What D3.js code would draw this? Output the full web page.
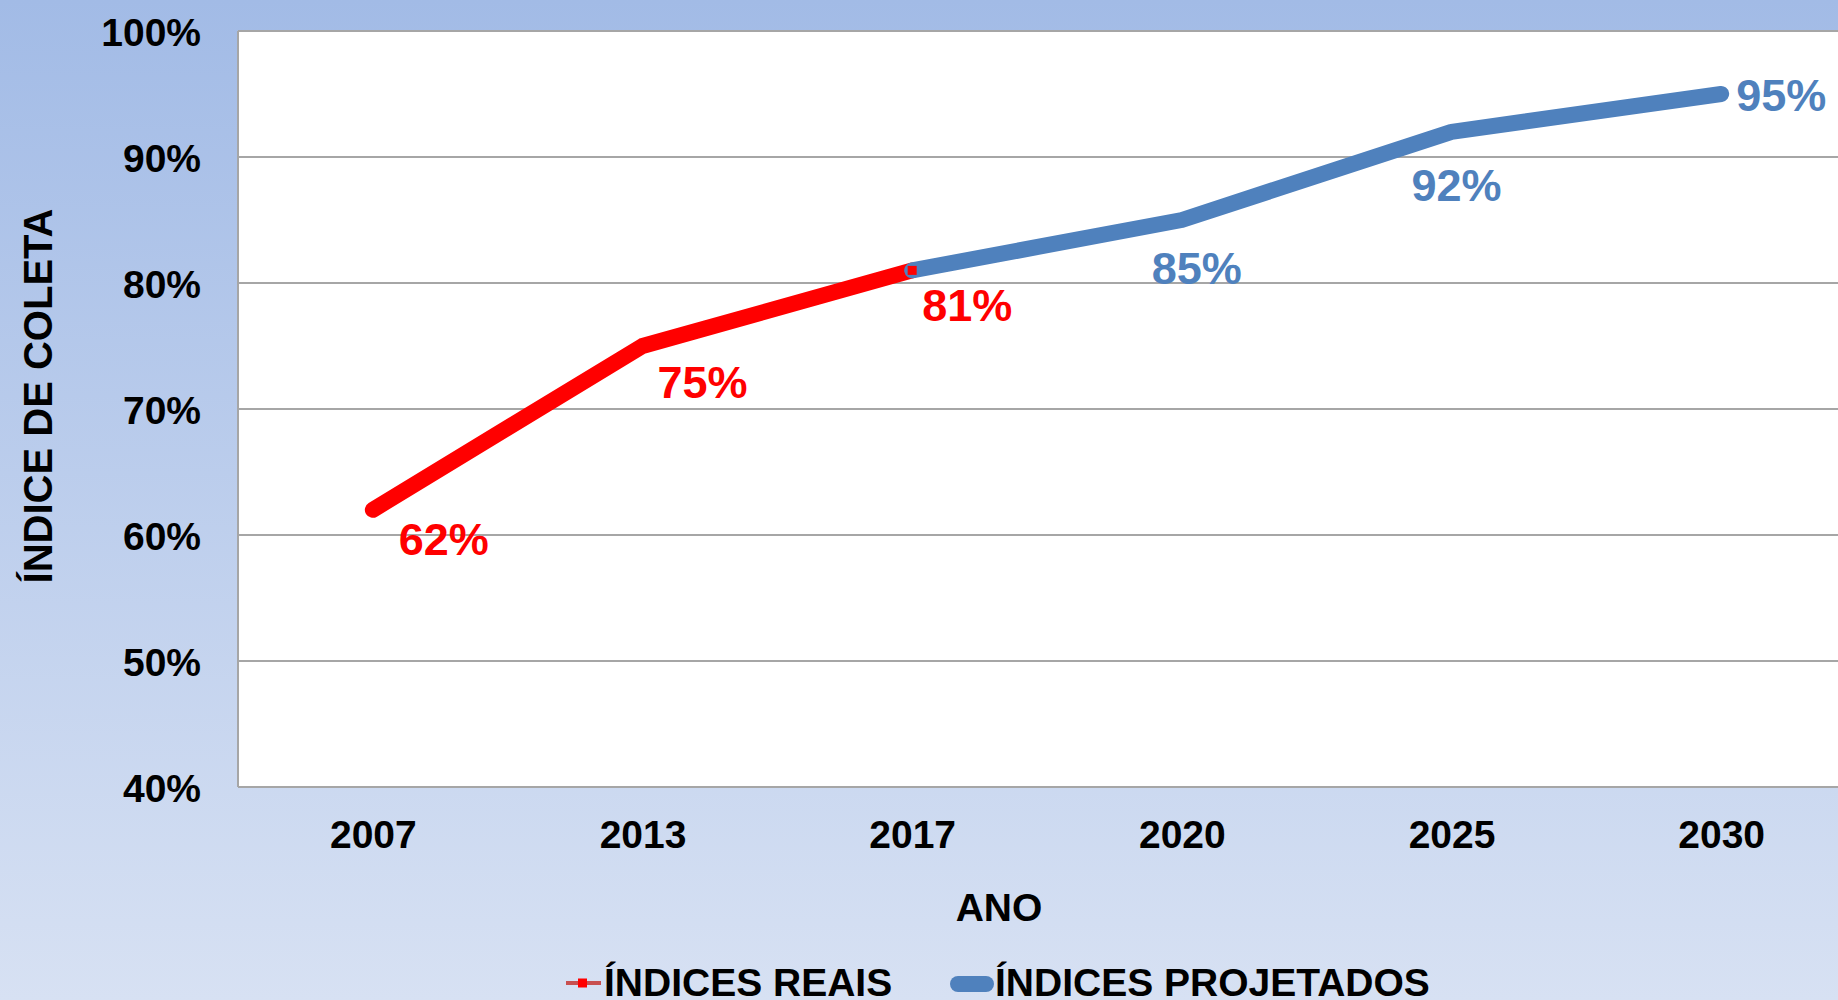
<!DOCTYPE html>
<html>
<head>
<meta charset="utf-8">
<script src="https://cdn.jsdelivr.net/npm/d3@7"></script>
<style>
    body { margin: 0; padding: 0; overflow: hidden; }
    text { font-family: "Liberation Sans", Arial, sans-serif; font-weight: bold; }
</style>
</head>
<body>
<script>

// Chart data
let years           = ["2007", "2013", "2017", "2020", "2025", "2030"]
let realValues      = [62, 75, 81, null, null, null]
let projectedValues = [null, null, 81, 85, 92, 95]
let yTicks          = [40, 50, 60, 70, 80, 90, 100]
let seriesNames     = ["ÍNDICES REAIS", "ÍNDICES PROJETADOS"]

// label offsets from the point (dx, dy to baseline, anchor)
let realLabelPos = [[71, 45, "middle"], [60, 52, "middle"], [55, 51, "middle"]]
let projLabelPos = [null, null, null, [15, 64, "middle"], [5, 69, "middle"], [15, 17, "start"]]

let width  = 1838
let height = 1000

let redColor  = "#FF0000"
let blueColor = "#4F81BD"
let gridColor = "#A6A6A6"

let plot = {left: 238, top: 31, right: 1856, bottom: 787}

let svg = d3.select("body")
    .append("svg")
    .attr("width", width)
    .attr("height", height)

// Background gradient
let grad = svg.append("defs")
    .append("linearGradient")
    .attr("id", "bg")
    .attr("x1", 0).attr("y1", 0)
    .attr("x2", 0).attr("y2", 1)
grad.append("stop").attr("offset", "0%").attr("stop-color", "#A2BBE6")
grad.append("stop").attr("offset", "100%").attr("stop-color", "#D7E1F3")

svg.append("rect")
    .attr("width", width)
    .attr("height", height)
    .style("fill", "url(#bg)")

let xScale = d3.scalePoint()
    .domain(years)
    .range([plot.left, plot.right])
    .padding(0.5)

let yScale = d3.scaleLinear()
    .domain([40, 100])
    .range([plot.bottom, plot.top])

// Plot area
svg.append("rect")
    .attr("x", plot.left)
    .attr("y", plot.top)
    .attr("width", plot.right - plot.left)
    .attr("height", plot.bottom - plot.top)
    .style("fill", "white")

// Gridlines
svg.selectAll(".grid")
    .data(yTicks)
    .enter()
    .append("line")
    .attr("x1", plot.left)
    .attr("x2", plot.right)
    .attr("y1", d => yScale(d))
    .attr("y2", d => yScale(d))
    .style("stroke", gridColor)
    .style("stroke-width", 2)

svg.append("line")
    .attr("x1", plot.left).attr("x2", plot.left)
    .attr("y1", plot.top).attr("y2", plot.bottom)
    .style("stroke", gridColor)
    .style("stroke-width", 2)

// Y axis
let yAxis = d3.axisLeft(yScale)
    .tickValues(yTicks)
    .tickSize(0)
    .tickPadding(37)
    .tickFormat(d => d + "%")
let yG = svg.append("g")
    .attr("transform", "translate(" + plot.left + ",0)")
    .call(yAxis)
yG.select(".domain").remove()
yG.selectAll("text")
    .attr("dy", 14)
    .style("font-size", "39px")
    .style("fill", "black")

// X axis
let xAxis = d3.axisBottom(xScale)
    .tickSize(0)
    .tickPadding(0)
let xG = svg.append("g")
    .attr("transform", "translate(0," + plot.bottom + ")")
    .call(xAxis)
xG.select(".domain").remove()
xG.selectAll("text")
    .attr("y", 61)
    .attr("dy", 0)
    .style("font-size", "39px")
    .style("fill", "black")

// Axis titles
svg.append("text")
    .attr("x", 999)
    .attr("y", 921)
    .attr("text-anchor", "middle")
    .style("font-size", "39px")
    .text("ANO")

svg.append("text")
    .attr("transform", "translate(52,396) rotate(-90)")
    .attr("text-anchor", "middle")
    .style("font-size", "40px")
    .text("ÍNDICE DE COLETA")

// Lines
let line = d3.line()
    .defined(d => d[1] != null)
    .x(d => xScale(d[0]))
    .y(d => yScale(d[1]))

let realData = years.map((y, i) => [y, realValues[i]])
let projData = years.map((y, i) => [y, projectedValues[i]])

svg.append("path")
    .datum(realData)
    .attr("d", line)
    .style("fill", "none")
    .style("stroke", redColor)
    .style("stroke-width", 16)
    .style("stroke-linecap", "round")
    .style("stroke-linejoin", "round")

svg.append("path")
    .datum(projData)
    .attr("d", line)
    .style("fill", "none")
    .style("stroke", blueColor)
    .style("stroke-width", 16)
    .style("stroke-linecap", "round")
    .style("stroke-linejoin", "round")

// Red square markers
svg.selectAll(".marker")
    .data(realData.filter(d => d[1] != null))
    .enter()
    .append("rect")
    .attr("x", d => xScale(d[0]) - 4.5)
    .attr("y", d => yScale(d[1]) - 4.5)
    .attr("width", 9)
    .attr("height", 9)
    .style("fill", redColor)

// Data labels
svg.selectAll(".realLabel")
    .data(realData.filter(d => d[1] != null))
    .enter()
    .append("text")
    .attr("x", (d, i) => xScale(d[0]) + realLabelPos[i][0])
    .attr("y", (d, i) => yScale(d[1]) + realLabelPos[i][1])
    .attr("text-anchor", (d, i) => realLabelPos[i][2])
    .style("font-size", "45px")
    .style("fill", redColor)
    .text(d => d[1] + "%")

svg.selectAll(".projLabel")
    .data(projData.map((d, i) => [d, projLabelPos[i]]).filter(d => d[1] != null))
    .enter()
    .append("text")
    .attr("x", d => xScale(d[0][0]) + d[1][0])
    .attr("y", d => yScale(d[0][1]) + d[1][1])
    .attr("text-anchor", d => d[1][2])
    .style("font-size", "45px")
    .style("fill", blueColor)
    .text(d => d[0][1] + "%")

// Legend
let legend = svg.append("g")

legend.append("line")
    .attr("x1", 566).attr("x2", 601)
    .attr("y1", 983).attr("y2", 983)
    .style("stroke", "#C85050")
    .style("stroke-width", 4)
legend.append("rect")
    .attr("x", 578).attr("y", 978.5)
    .attr("width", 9).attr("height", 9)
    .style("fill", redColor)
legend.append("text")
    .attr("x", 604).attr("y", 996)
    .style("font-size", "39px")
    .text(seriesNames[0])

legend.append("line")
    .attr("x1", 958).attr("x2", 986)
    .attr("y1", 984).attr("y2", 984)
    .style("stroke", blueColor)
    .style("stroke-width", 16)
    .style("stroke-linecap", "round")
legend.append("text")
    .attr("x", 995).attr("y", 996)
    .style("font-size", "39px")
    .text(seriesNames[1])

</script>
</body>
</html>
